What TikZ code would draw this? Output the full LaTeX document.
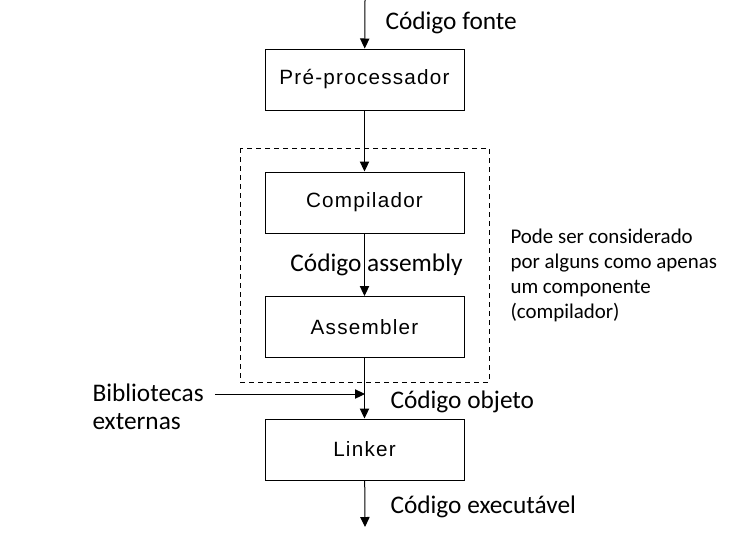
\documentclass[tikz,border=0pt]{standalone}
\usepackage{fontspec}
\setmainfont{Carlito}
\newfontfamily\boxfont[LetterSpace=6]{Liberation Sans}
\usepackage{tikz}
\usetikzlibrary{arrows.meta}
\usetikzlibrary{positioning}
\tikzset{
    stage/.style = {rectangle, draw=black, line width=0.75pt, minimum width=149.25pt, minimum height=45.75pt, font=\boxfont\fontsize{15.5}{18}\selectfont},
    lbl/.style = {font=\fontsize{19}{21}\selectfont, inner sep=0pt},
}
\begin{document}
\begin{tikzpicture}[
	x=0.75pt, y=-0.75pt,
	line width=0.75pt
]
\tikzset{
    arr/.style = {-{Triangle[length=7.5pt,width=7pt]}},
    groupbox/.style = {dash pattern=on 3.75pt off 3pt, line width=0.75pt},
    note/.style = {font=\fontsize{15.7}{18.75}\selectfont, align=left, inner sep=0pt}
}
\useasboundingbox (0,0) rectangle (730,536);
\node[stage] at (364.5,79.5) (pre) {Pré-processador};
\node[stage] at (364.5,202.5) (comp) {Compilador};
\node[stage] at (364.5,327) (asm) {Assembler};
\node[stage] at (364.5,449.5) (link) {Linker};
\coordinate (src) at (365,0);
\coordinate (join) at (365,394);
\coordinate (out) at (365,527);
%
\draw[groupbox] (240,148) rectangle (489,382);
%
\node[lbl, anchor=west] at (385,23) (lsrc) {Código fonte};
\node[lbl, anchor=west] at (390,402) (lobj) {Código objeto};
\node[lbl, anchor=west] at (390,507) (lexe) {Código executável};
\node[lbl, align=left, anchor=north west, font=\fontsize{19}{21}\selectfont] at (92,383) (bib) {Bibliotecas\\externas};
\node[note, anchor=west] at (510,275.5) (nota) {Pode ser considerado\\por alguns como apenas\\um componente\\(compilador)};
%
\draw[arr] (src) -- (pre);
\draw[arr] (pre) -- (comp);
\draw[arr] (comp) -- node[lbl, xshift=9pt] {Código assembly} (asm);
\draw[arr] (asm) -- (link);
\draw[arr] ([xshift=8pt]bib.east |- join) -- (join);
\draw[arr] (link) -- (out);
\end{tikzpicture}
\end{document}
